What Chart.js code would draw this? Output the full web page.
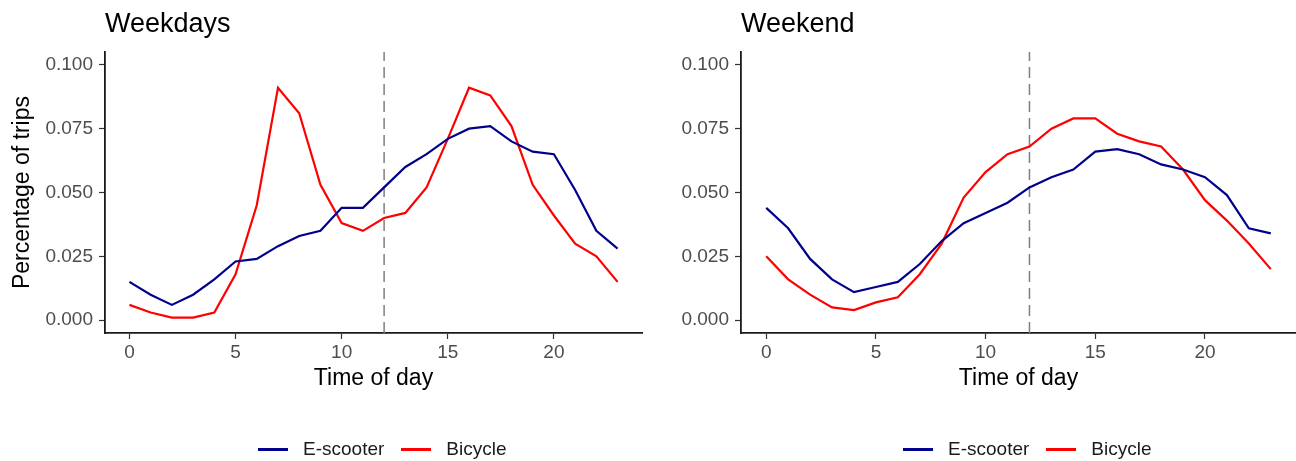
<!DOCTYPE html>
<html>
<head>
<meta charset="utf-8">
<script src="https://cdn.jsdelivr.net/npm/chart.js@4.4.1/dist/chart.umd.min.js"></script>
<style>
  body { margin: 0; background: #fff; font-family: "Liberation Sans", Arial, sans-serif; }
  #wrap { position: relative; width: 1296px; height: 461px; overflow: hidden; }
  canvas { position: absolute; top: 0; }
  .legend { position: absolute; top: 438px; height: 22px; display: flex; align-items: center; font-size: 19px; color: #1a1a1a; white-space: nowrap; }
  .legend .key { display: inline-block; width: 30px; height: 3px; margin-right: 15px; }
  .legend .lab { margin-right: 17px; line-height: 22px; }
</style>
</head>
<body>
<div id="wrap">
  <canvas id="weekdays" width="648" height="461" style="left:0"></canvas>
  <canvas id="weekend" width="648" height="461" style="left:648px"></canvas>
  <div class="legend" id="legend1" style="left:258px"></div>
  <div class="legend" id="legend2" style="left:903px"></div>
</div>
<script>
var HOURS = [0, 1, 2, 3, 4, 5, 6, 7, 8, 9, 10, 11, 12, 13, 14, 15, 16, 17, 18, 19, 20, 21, 22, 23];
var WEEKDAY_ESCOOTER = [0.015, 0.010, 0.006, 0.010, 0.016, 0.023, 0.024, 0.029, 0.033, 0.035, 0.044, 0.044,
                        0.052, 0.060, 0.065, 0.071, 0.075, 0.076, 0.070, 0.066, 0.065, 0.051, 0.035, 0.028];
var WEEKDAY_BICYCLE = [0.006, 0.003, 0.001, 0.001, 0.003, 0.018, 0.045, 0.091, 0.081, 0.053, 0.038, 0.035,
                       0.040, 0.042, 0.052, 0.071, 0.091, 0.088, 0.076, 0.053, 0.041, 0.030, 0.025, 0.015];
var WEEKEND_ESCOOTER = [0.044, 0.036, 0.024, 0.016, 0.011, 0.013, 0.015, 0.022, 0.031, 0.038, 0.042, 0.046,
                        0.052, 0.056, 0.059, 0.066, 0.067, 0.065, 0.061, 0.059, 0.056, 0.049, 0.036, 0.034];
var WEEKEND_BICYCLE = [0.025, 0.016, 0.010, 0.005, 0.004, 0.007, 0.009, 0.018, 0.030, 0.048, 0.058, 0.065,
                       0.068, 0.075, 0.079, 0.079, 0.073, 0.070, 0.068, 0.059, 0.047, 0.039, 0.030, 0.020];
var X_TICKS = [0, 5, 10, 15, 20];
var Y_TICKS = [0, 0.025, 0.05, 0.075, 0.1];
var NOON = 12;

var SERIES = [
  { label: 'E-scooter', color: '#00008b' },
  { label: 'Bicycle', color: '#ff0000' }
];
var FONT = '"Liberation Sans", Arial, sans-serif';
var X_MIN = -1.15, X_MAX = 24.15;
var Y_MIN = -0.005, Y_MAX = 0.105;

function points(values) {
  return HOURS.map(function(h, i) { return { x: h, y: values[i] }; });
}

function axisGrid() {
  return { display: true, drawOnChartArea: false, drawTicks: true, tickLength: 6, tickColor: '#333', tickWidth: 1.2 };
}

function makeChart(id, title, escooter, bicycle, yWidth, showYTitle, rightPad) {
  return new Chart(document.getElementById(id), {
    type: 'line',
    data: {
      datasets: [
        { label: SERIES[0].label, data: points(escooter), borderColor: SERIES[0].color, borderWidth: 2.2, pointRadius: 0, tension: 0 },
        { label: SERIES[1].label, data: points(bicycle), borderColor: SERIES[1].color, borderWidth: 2.2, pointRadius: 0, tension: 0 },
        { label: 'noon', data: [{ x: NOON, y: Y_MIN }, { x: NOON, y: Y_MAX }], borderColor: '#7f7f7f',
          borderWidth: 1.5, borderDash: [11, 6], pointRadius: 0, order: 5 }
      ]
    },
    options: {
      responsive: false,
      animation: false,
      layout: { padding: { left: 0, top: 0, right: rightPad, bottom: 58 } },
      plugins: {
        legend: { display: false },
        tooltip: { enabled: false },
        title: {
          display: true, text: title, align: 'start', fullSize: false, color: '#000',
          font: { family: FONT, size: 27, weight: 'normal' },
          padding: { top: 8.4, bottom: 11.2 }
        }
      },
      scales: {
        x: {
          type: 'linear', min: X_MIN, max: X_MAX,
          afterBuildTicks: function(s) { s.ticks = X_TICKS.map(function(v) { return { value: v }; }); },
          afterFit: function(s) { s.height = 70; },
          ticks: { color: '#4d4d4d', font: { family: FONT, size: 19 }, padding: 2, maxRotation: 0, autoSkip: false },
          grid: axisGrid(),
          border: { display: true, color: '#1a1a1a', width: 1.8 },
          title: { display: true, text: 'Time of day', color: '#000', font: { family: FONT, size: 23 }, padding: { top: 0, bottom: 10.2 } }
        },
        y: {
          min: Y_MIN, max: Y_MAX,
          afterBuildTicks: function(s) { s.ticks = Y_TICKS.map(function(v) { return { value: v }; }); },
          afterFit: function(s) { s.width = yWidth; },
          ticks: { color: '#4d4d4d', font: { family: FONT, size: 19 }, padding: 6,
                   callback: function(v) { return v.toFixed(3); } },
          grid: axisGrid(),
          border: { display: true, color: '#1a1a1a', width: 1.8 },
          title: { display: showYTitle, text: 'Percentage of trips', color: '#000', font: { family: FONT, size: 23 }, padding: { top: 8.5, bottom: 0 } }
        }
      }
    }
  });
}

function buildLegend(id) {
  var el = document.getElementById(id);
  SERIES.forEach(function(s) {
    var key = document.createElement('span');
    key.className = 'key';
    key.style.background = s.color;
    var lab = document.createElement('span');
    lab.className = 'lab';
    lab.textContent = s.label;
    el.appendChild(key);
    el.appendChild(lab);
  });
}

makeChart('weekdays', 'Weekdays', WEEKDAY_ESCOOTER, WEEKDAY_BICYCLE, 105, true, 6);
makeChart('weekend', 'Weekend', WEEKEND_ESCOOTER, WEEKEND_BICYCLE, 93, false, 0);
buildLegend('legend1');
buildLegend('legend2');
</script>
</body>
</html>
